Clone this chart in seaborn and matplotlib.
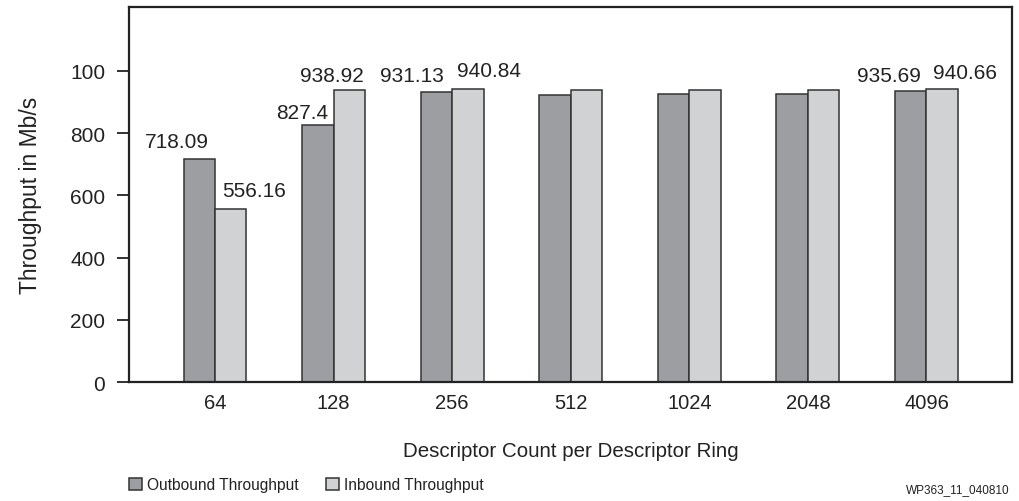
import matplotlib
matplotlib.use("Agg")
import matplotlib.pyplot as plt
import seaborn as sns
import pandas as pd

# data
counts = ["64", "128", "256", "512", "1024", "2048", "4096"]
outbound = [718.09, 827.4, 931.13, 924, 927, 927, 935.69]
inbound = [556.16, 938.92, 940.84, 938, 938, 938, 940.66]
y_ticks = [0, 200, 400, 600, 800, 1000]
y_tick_labels = ["0", "200", "400", "600", "800", "100"]
series_names = ["Outbound Throughput", "Inbound Throughput"]

# which bars carry a value label: (category index, series index, dx px, dy px)
labelled = [(0, 0, -22, 8), (0, 1, 23, 9),
            (1, 0, -16, 3), (1, 1, -17, 5),
            (2, 0, -24, 7), (2, 1, 21, 9),
            (6, 0, -22, 6), (6, 1, 23, 7)]

df = pd.DataFrame({
    "count": counts * 2,
    "value": outbound + inbound,
    "series": [series_names[0]] * len(counts) + [series_names[1]] * len(counts),
})

sns.set_style("white")
plt.rcParams["font.family"] = ["Liberation Sans", "DejaVu Sans"]

fig = plt.figure(figsize=(10.19, 5.02), dpi=100)
ax = fig.add_axes([0.1266, 0.237, 0.8664, 0.748])

sns.barplot(data=df, x="count", y="value", hue="series", order=counts,
            hue_order=series_names, palette=["#9d9ea2", "#d1d2d4"],
            width=0.53, gap=0, edgecolor="#333333", linewidth=1.1,
            saturation=1, ax=ax, legend=True)

ax.set_xlim(-0.725, 6.72)
ax.set_ylim(0, 1207)
ax.set_yticks(y_ticks)
ax.set_yticklabels(y_tick_labels)
ax.tick_params(axis="y", direction="out", length=8.6, width=1.3, pad=8.5,
               labelsize=15, left=True, color="#222222", labelcolor="#222222")
ax.tick_params(axis="x", length=0, pad=8, labelsize=14.5, labelcolor="#222222")
for sp in ax.spines.values():
    sp.set_visible(True)
    sp.set_linewidth(1.6)
    sp.set_color("#222222")

ax.set_xlabel("")
ax.set_ylabel("Throughput in Mb/s", fontsize=16.5, color="#222222", labelpad=20)

# value labels above some of the bars
values = [outbound, inbound]
for ci, si, dx, dy in labelled:
    bar = ax.containers[si][ci]
    x = bar.get_x() + bar.get_width() / 2
    v = values[si][ci]
    ax.annotate(f"{v:g}", (x, bar.get_height()), xytext=(dx, dy),
                textcoords="offset pixels", ha="center", va="bottom",
                fontsize=15, color="#222222")

fig.text(0.5 * (129 + 1012) / 1019, 1 - 452 / 502,
         "Descriptor Count per Descriptor Ring",
         ha="center", va="center", fontsize=14.8, color="#222222")

handles, lbls = ax.get_legend_handles_labels()
ax.get_legend().remove()
fig.legend(handles, lbls, loc="center left", bbox_to_anchor=(0.113, 1 - 486 / 502),
           ncol=2, frameon=False, fontsize=11.2, handlelength=0.85,
           handleheight=0.85, handletextpad=0.3, columnspacing=1.75,
           labelcolor="#222222")

fig.text(1010 / 1019, 1 - 490 / 502, "WP363_11_040810", ha="right",
         va="center", fontsize=8.5, color="#222222")

fig.savefig("out.png", dpi=100)
